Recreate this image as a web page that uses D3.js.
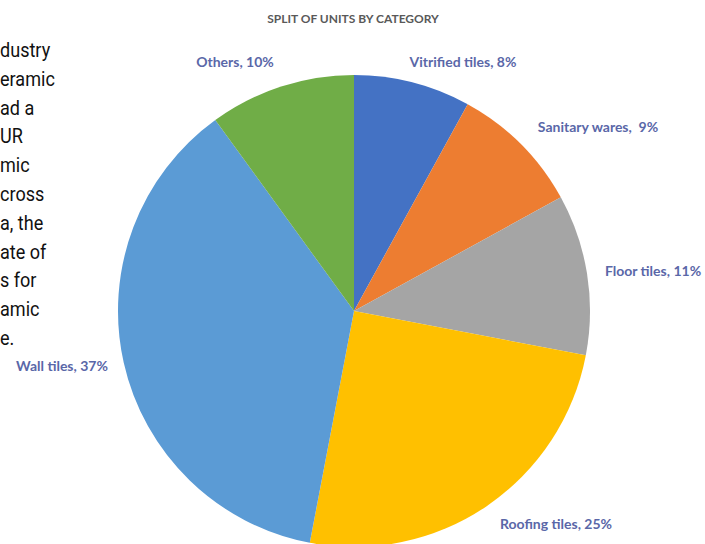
<!DOCTYPE html>
<html>
<head>
<meta charset="utf-8">
<script src="https://cdn.jsdelivr.net/npm/d3@7"></script>
<style>
  html, body { margin: 0; padding: 0; background: #fff; }
  svg { display: block; }
  .title { font-family: Lato, "Open Sans", sans-serif; font-weight: 700; font-size: 12px; fill: #595959; }
  .slice-label { font-family: Lato, "Open Sans", sans-serif; font-weight: 700; font-size: 14px; fill: #5a67a8; }
  .body-text { font-family: Roboto, "Liberation Sans", sans-serif; font-size: 21px; fill: #111; }
</style>
</head>
<body>
<svg id="chart"></svg>
<script>
// Data
const categories = ['Vitrified tiles', 'Sanitary wares', 'Floor tiles', 'Roofing tiles', 'Wall tiles', 'Others'];
const shares = [8, 9, 11, 25, 37, 10];
const colors = ['#4472c4', '#ed7d31', '#a5a5a5', '#ffc000', '#5b9bd5', '#70ad47'];
const labelText = ['Vitrified tiles, 8%', 'Sanitary wares,  9%', 'Floor tiles, 11%', 'Roofing tiles, 25%', 'Wall tiles, 37%', 'Others, 10%'];

// clipped article text on the left
const bodyLines = ['dustry', 'eramic', 'ad a', 'UR', 'mic', 'cross', 'a, the', 'ate of', 's for', 'amic', 'e.'];

// Layout
const width = 705, height = 544;
const center = { x: 354, y: 311 };
const radius = 236;
// where each data label sits (label centre)
const labelAt = {
    'Vitrified tiles': [463, 63],
    'Sanitary wares': [598, 128],
    'Floor tiles': [653, 272],
    'Roofing tiles': [556, 525],
    'Wall tiles': [62, 367],
    'Others': [235, 63]
};

const svg = d3.select('#chart')
    .attr('width', width)
    .attr('height', height);

// Left column text
const body = svg.append('g').attr('transform', 'scale(0.86,1)');
body.selectAll('text')
    .data(bodyLines)
    .enter()
    .append('text')
    .attr('class', 'body-text')
    .attr('x', 0)
    .attr('y', (d, i) => 57 + i * 28.8)
    .text(d => d);

// Title
svg.append('text')
    .attr('class', 'title')
    .attr('x', 353)
    .attr('y', 23)
    .attr('text-anchor', 'middle')
    .text('SPLIT OF UNITS BY CATEGORY');

// Pie
const pie = d3.pie().sort(null).value(d => d.value);
const arc = d3.arc().innerRadius(0).outerRadius(radius);
const data = categories.map((c, i) => ({ name: c, value: shares[i], color: colors[i], label: labelText[i] }));

const pieG = svg.append('g').attr('transform', `translate(${center.x},${center.y})`);
pieG.selectAll('path')
    .data(pie(data))
    .enter()
    .append('path')
    .attr('d', arc)
    .attr('fill', d => d.data.color);

// Labels
svg.append('g').selectAll('text')
    .data(data)
    .enter()
    .append('text')
    .attr('class', 'slice-label')
    .attr('x', d => labelAt[d.name][0])
    .attr('y', d => labelAt[d.name][1])
    .attr('text-anchor', 'middle')
    .attr('dominant-baseline', 'middle')
    .style('white-space', 'pre')
    .text(d => d.label);
</script>
</body>
</html>
